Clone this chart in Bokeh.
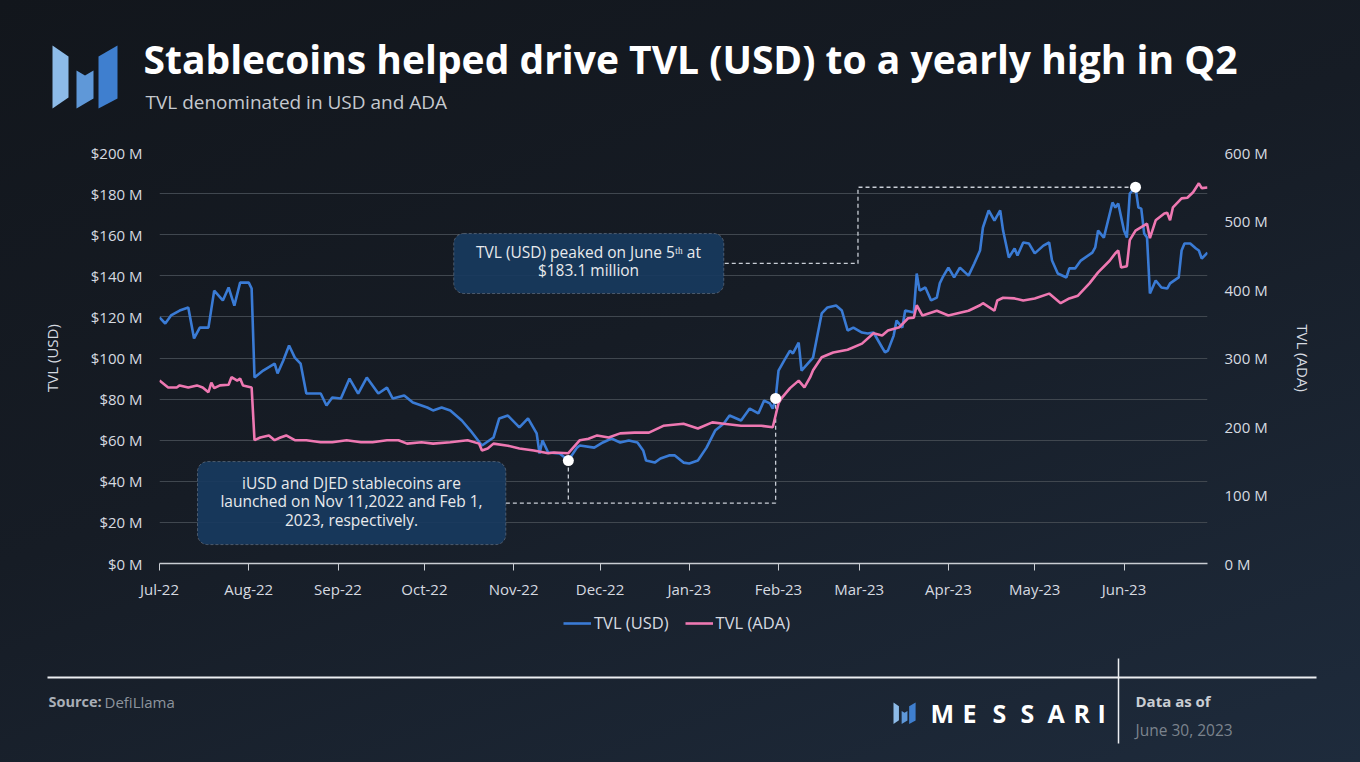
import pandas as pd
from bokeh.plotting import figure
from bokeh.layouts import column
from bokeh.models import (Range1d, LinearAxis, SingleIntervalTicker, PrintfTickFormatter,
                          DatetimeTickFormatter, MonthsTicker, Legend, LegendItem,
                          BoxAnnotation, Label, GlobalInlineStyleSheet)
from bokeh.core.properties import value
from bokeh.embed import file_html
from bokeh.resources import INLINE

# days since 2022-07-01, TVL in USD (millions)
usd_day = [0, 2, 4, 7, 10, 12, 14, 17, 19, 22,
           24, 26, 28, 31, 32, 33, 36, 40, 41, 43,
           45, 47, 49, 51, 56, 58, 60, 63, 66, 69,
           72, 76, 79, 81, 85, 88, 93, 95, 98, 101,
           105, 108, 112, 116, 118, 121, 125, 128, 131, 132,
           133, 135, 139, 142, 145, 146, 151, 154, 157, 160,
           163, 166, 168, 169, 172, 174, 177, 179, 182, 184,
           187, 190, 193, 196, 198, 202, 205, 208, 210, 212,
           213, 214, 215, 217, 219, 220, 222, 223, 227, 230,
           232, 235, 237, 239, 241, 244, 246, 248, 251, 252,
           253, 255, 256, 258, 259, 262, 263, 264, 266, 268,
           270, 271, 272, 274, 276, 278, 281, 283, 285, 286,
           288, 290, 292, 293, 295, 297, 298, 300, 302, 304,
           307, 309, 310, 312, 315, 316, 318, 320, 324, 325,
           326, 328, 331, 332, 333, 335, 336, 337, 339, 340,
           341, 342, 343, 344, 346, 348, 350, 351, 354, 355,
           356, 358, 360, 361, 362, 364]
usd_tvl = [119.7, 116.8, 120.7, 123.1, 124.6, 109.5, 114.8, 114.8, 132.8, 128.0,
           134.3, 125.5, 136.7, 136.7, 133.8, 90.5, 93.9, 97.3, 92.5, 98.8,
           106.1, 100.2, 97.3, 82.7, 82.7, 76.9, 80.8, 80.3, 90.0, 82.7,
           90.5, 82.7, 85.6, 80.3, 81.8, 78.3, 75.9, 74.5, 75.9, 74.5,
           69.6, 64.7, 57.4, 61.3, 70.6, 72.0, 66.2, 70.6, 63.3, 53.5,
           59.9, 54.0, 53.5, 50.1, 56.4, 57.4, 56.4, 58.9, 60.8, 58.9,
           59.9, 58.9, 55.0, 50.1, 49.1, 51.1, 52.6, 52.6, 49.1, 48.7,
           50.1, 56.4, 64.7, 68.1, 72.0, 69.6, 75.4, 73.0, 79.3, 77.9,
           75.4, 80.3, 93.9, 98.8, 103.6, 102.2, 107.5, 93.9, 100.2, 121.7,
           124.6, 125.5, 123.1, 113.4, 114.8, 112.4, 111.9, 112.4, 105.1, 102.7,
           103.6, 110.9, 118.2, 114.8, 123.1, 122.1, 141.1, 132.8, 134.3, 128.0,
           129.4, 136.3, 139.2, 144.0, 139.2, 144.0, 140.1, 146.0, 152.3, 163.5,
           171.8, 166.9, 171.8, 162.0, 148.9, 153.3, 149.9, 156.2, 155.7, 150.9,
           154.7, 156.2, 147.4, 141.1, 139.2, 143.6, 143.6, 147.4, 151.3, 153.8,
           162.0, 158.6, 175.7, 173.2, 175.2, 162.0, 158.6, 180.0, 183.1, 173.2,
           172.7, 160.6, 158.6, 131.4, 137.7, 134.3, 133.8, 136.3, 139.2, 152.3,
           155.7, 155.7, 153.3, 152.3, 148.4, 151.3]

# days since 2022-07-01, TVL in ADA (millions)
ada_day = [0, 3, 6, 7, 10, 13, 15, 17, 18, 19,
           21, 24, 25, 27, 28, 29, 32, 33, 35, 38,
           40, 42, 44, 47, 51, 56, 60, 65, 70, 74,
           79, 83, 86, 91, 95, 101, 107, 111, 112, 114,
           116, 121, 125, 130, 135, 137, 142, 146, 149, 152,
           156, 160, 165, 170, 175, 182, 187, 192, 196, 202,
           209, 213, 215, 216, 219, 222, 224, 226, 227, 230,
           234, 239, 244, 248, 251, 253, 257, 260, 262, 263,
           265, 270, 274, 278, 281, 285, 286, 290, 291, 293,
           297, 300, 304, 309, 313, 316, 319, 323, 326, 330,
           332, 333, 334, 336, 337, 339, 341, 343, 344, 346,
           349, 350, 351, 352, 355, 357, 359, 361, 362, 364]
ada_tvl = [267, 257, 257, 260, 257, 260, 257, 250, 264, 256,
           260, 261, 272, 267, 270, 260, 257, 180, 184, 187,
           180, 184, 187, 180, 180, 177, 177, 180, 177, 177,
           180, 180, 175, 177, 175, 177, 180, 175, 165, 168,
           175, 172, 168, 165, 161, 162, 161, 180, 182, 187,
           184, 190, 191, 191, 201, 204, 197, 206, 204, 201,
           201, 199, 234, 241, 256, 267, 257, 272, 282, 301,
           308, 312, 321, 336, 333, 340, 345, 358, 359, 377,
           362, 369, 362, 366, 369, 377, 380, 369, 384, 388,
           387, 384, 387, 394, 380, 387, 391, 409, 425, 442,
           453, 457, 432, 434, 472, 486, 491, 496, 475, 501,
           511, 512, 501, 520, 533, 534, 542, 555, 548, 549]

dot_days = [142, 214, 339]   # Nov launch, Feb launch, June 5th peak

BASE = pd.Timestamp("2022-07-01")
BLUE = "#3a7bd5"
PINK = "#ee78b2"
TXT = "#d6dae0"
FONT = "Open Sans"
W = 1344


def day_ms(d):
    return (BASE + pd.Timedelta(days=d)).timestamp() * 1000


def to_dates(days):
    return BASE + pd.to_timedelta(days, unit="D")


# page pixel -> data position inside the chart frame (annotation placement)
PX_DAY = 1048 / 364


def sx(ix):
    return day_ms((ix - 159) / PX_DAY)


def sy(iy):
    return (563 - iy) * 200 / 411


def deco_figure(h):
    # plain pixel canvas, y pointing down
    f = figure(width=W, height=h, x_range=Range1d(0, W), y_range=Range1d(h, 0),
               x_axis_type=None, y_axis_type=None, toolbar_location=None,
               output_backend="svg", min_border=0, frame_align=False)
    f.grid.visible = False
    f.outline_line_color = None
    f.background_fill_alpha = 0
    f.border_fill_alpha = 0
    return f


LOGO = [[(52, 45), (68, 56), (68, 97), (52, 108)],
        [(76, 70), (84.5, 75), (93, 70), (93, 98), (76, 108)],
        [(98, 56), (117, 45), (117, 98), (98, 108)]]
LOGO_COLORS = ["#8dbbe8", "#5f98d8", "#3f7fcf"]


def add_logo(f, x0, y0, k):
    f.patches([[x0 + (x - 52) * k for x, _ in pts] for pts in LOGO],
              [[y0 + (y - 45) * k for _, y in pts] for pts in LOGO],
              fill_color=LOGO_COLORS, line_color=None)


def add_text(f, x, y, t, size, color, bold=False):
    f.text(x=[x], y=[y], text=[t], text_font=value(FONT), text_font_size=size,
           text_font_style="bold" if bold else "normal", text_color=color,
           text_baseline="middle")


# ---- header (page y 8..128)
head = deco_figure(120)
add_logo(head, 44, 37, 1.0)
add_text(head, 135, 50, "Stablecoins helped drive TVL (USD) to a yearly high in Q2", "39px", "white", True)
add_text(head, 137, 93, "TVL denominated in USD and ADA", "19px", "#c5c9cf")

# ---- main chart (page y 128..603)
p = figure(width=W, height=475, x_axis_type="datetime",
           x_range=Range1d(day_ms(0), day_ms(364)), y_range=Range1d(0, 200),
           toolbar_location=None, output_backend="svg", frame_align=False,
           min_border_left=151, min_border_right=145, min_border_top=24, min_border_bottom=40)
p.background_fill_alpha = 0
p.border_fill_alpha = 0
p.outline_line_color = None
p.xgrid.visible = False
p.ygrid.grid_line_color = "#40474f"
p.ygrid.grid_line_width = 1

p.extra_y_ranges = {"ada": Range1d(0, 600)}

p.xaxis.ticker = MonthsTicker(months=list(range(12)))
p.xaxis.formatter = DatetimeTickFormatter(months="%b-%y", days="%b-%y")
p.xaxis.axis_line_color = "#c9cdd3"
p.xaxis.axis_line_width = 1.5
p.xaxis.major_tick_line_color = "#c9cdd3"
p.xaxis.major_tick_out = 7
p.xaxis.major_tick_in = 0
p.xaxis.minor_tick_line_color = None
p.xaxis.major_label_standoff = 8

p.yaxis.ticker = SingleIntervalTicker(interval=20, num_minor_ticks=0)
p.yaxis.formatter = PrintfTickFormatter(format="$%d M")
p.yaxis.axis_label = "TVL (USD)"
p.yaxis.axis_label_standoff = 26

ax_r = LinearAxis(y_range_name="ada", axis_label="TVL (ADA)",
                  ticker=SingleIntervalTicker(interval=100, num_minor_ticks=0),
                  formatter=PrintfTickFormatter(format="%d M"))
p.add_layout(ax_r, "right")
ax_r.axis_label_standoff = 22

for ax in [p.yaxis[0], ax_r]:
    ax.axis_line_color = None
    ax.major_tick_line_color = None
    ax.minor_tick_line_color = None
    ax.major_tick_out = 0
    ax.major_label_standoff = 17
for ax in [p.xaxis[0], p.yaxis[0], ax_r]:
    ax.major_label_text_font = FONT
    ax.major_label_text_font_size = "15px"
    ax.major_label_text_color = TXT
    ax.axis_label_text_font = FONT
    ax.axis_label_text_font_size = "15px"
    ax.axis_label_text_font_style = "normal"
    ax.axis_label_text_color = TXT

# annotation boxes (days / USD millions)
b1 = dict(left=102.2, right=196.0, bottom=131.4, top=160.6)
b2 = dict(left=13.2, right=120.3, bottom=9.2, top=49.6)
for b in [b1, b2]:
    p.add_layout(BoxAnnotation(left=day_ms(b["left"]), right=day_ms(b["right"]),
                               bottom=b["bottom"], top=b["top"],
                               fill_color="#183a5e", fill_alpha=0.92,
                               line_color="#c9ced6", line_width=1, line_dash="3 2",
                               border_radius=10))

usd_map = dict(zip(usd_day, usd_tvl))
dot_vals = [usd_map[d] for d in dot_days]
b1_mid = (b1["bottom"] + b1["top"]) / 2
b2_mid = (b2["bottom"] + b2["top"]) / 2
elbow = 242.6
conn = dict(line_color="#c9ced6", line_width=1.3, line_dash="4 3")
p.line(to_dates([dot_days[2], elbow, elbow, b1["right"]]),
       [dot_vals[2], dot_vals[2], b1_mid, b1_mid], **conn)
p.line(to_dates([b2["right"], dot_days[1], dot_days[1]]),
       [b2_mid, b2_mid, dot_vals[1]], **conn)
p.line(to_dates([dot_days[0], dot_days[0]]), [dot_vals[0], b2_mid], **conn)

p.line(to_dates(usd_day), usd_tvl, line_color=BLUE, line_width=2.6)
p.line(to_dates(ada_day), ada_tvl, line_color=PINK, line_width=2.6, y_range_name="ada")
p.scatter(to_dates(dot_days), dot_vals, size=11, color="white", line_color=None)

lab = dict(text_font=FONT, text_font_size="15.5px", text_color="#e8eaed", text_align="center")
for ix, iy, t in [(588, 262, "TVL (USD) peaked on June 5ᵗʰ at"),
                  (588, 280, "$183.1 million"),
                  (351, 493, "iUSD and DJED stablecoins are"),
                  (351, 511, "launched on Nov 11,2022 and Feb 1,"),
                  (351, 530, "2023, respectively.")]:
    p.add_layout(Label(x=sx(ix), y=sy(iy), text=t, **lab))

# ---- footer (page y 603..754): legend, rule lines, source, brand
foot = deco_figure(151)
# swatch renderers for the legend, kept off the visible canvas
leg_usd = foot.line([-60, -40], [-60, -60], line_color=BLUE, line_width=2.6)
leg_ada = foot.line([-60, -40], [-60, -60], line_color=PINK, line_width=2.6)
legend = Legend(items=[LegendItem(label="TVL (USD)", renderers=[leg_usd]),
                       LegendItem(label="TVL (ADA)", renderers=[leg_ada])],
                orientation="horizontal", location=(555, 120), margin=0, padding=4,
                spacing=16, label_standoff=3, glyph_width=28,
                label_text_font=FONT, label_text_font_size="16.5px",
                label_text_color=TXT, background_fill_alpha=0, border_line_color=None)
foot.add_layout(legend)

foot.line([39, 1308], [74, 74], line_color="#eceef1", line_width=2)
foot.line([1110, 1110], [55, 140], line_color="#eceef1", line_width=1.5)
add_text(foot, 40, 98, "Source:", "14.5px", "#a9afb7", True)
add_text(foot, 96, 98, "DefiLlama", "15px", "#8d949d")
add_logo(foot, 885, 99, 0.34)
foot.text(x=[922, 954, 984, 1012, 1039, 1065, 1089], y=[109] * 7, text=list("MESSARI"),
          text_font=value(FONT), text_font_size="25px", text_font_style="bold",
          text_color="white", text_baseline="middle")
add_text(foot, 1127, 97, "Data as of", "15px", "#c9cdd3", True)
add_text(foot, 1127, 126, "June 30, 2023", "15.5px", "#7b838d")

page = column(head, p, foot, spacing=0)
page.stylesheets = [GlobalInlineStyleSheet(css=(
    "html{height:100%;}"
    "body{margin:8px;min-height:calc(100% - 16px);"
    "background:linear-gradient(160deg,#12161c 0%,#161c25 45%,#1e2b3c 100%) fixed;}"))]

open("out.html", "w").write(file_html(page, INLINE))
